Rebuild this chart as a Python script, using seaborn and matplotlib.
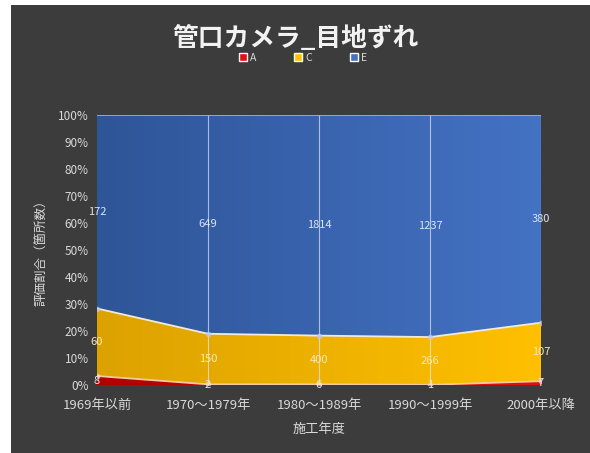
import numpy as np
import pandas as pd
import matplotlib
matplotlib.use("Agg")
import matplotlib.pyplot as plt
import seaborn as sns
from matplotlib.patches import Rectangle
from matplotlib.colors import LinearSegmentedColormap

# Inspection results by construction period (number of locations per grade)
periods = ["1969年以前", "1970～1979年", "1980～1989年", "1990～1999年", "2000年以降"]
grade_a = [8, 2, 6, 1, 7]
grade_c = [60, 150, 400, 266, 107]
grade_e = [172, 649, 1814, 1237, 380]
grades = ["A", "C", "E"]

df = pd.DataFrame({"period": periods, "A": grade_a, "C": grade_c, "E": grade_e})
df["total"] = df[grades].sum(axis=1)
for g in grades:
    df[g + "_pct"] = df[g] / df["total"]

sns.set_theme(style="dark")
plt.rcParams["font.family"] = ["Noto Sans CJK JP", "DejaVu Sans"]

BG = "#3c3c3c"
TXT = "#d9d9d9"

fig = plt.figure(figsize=(5.9, 4.53), dpi=100, facecolor="white")
fig.patches.append(Rectangle((11 / 590, 0), 1 - 11 / 590, 1 - 5 / 453,
                             transform=fig.transFigure, facecolor=BG,
                             edgecolor="none", zorder=-10))

ax = fig.add_axes([97 / 590, 1 - 385 / 453, (541 - 97) / 590, (385 - 115) / 453])
ax.set_facecolor(BG)
ax.set_zorder(1)

x = np.arange(len(periods))
pa = df["A_pct"].to_numpy()
pc = df["C_pct"].to_numpy()
pe = df["E_pct"].to_numpy()
b1 = pa
b2 = pa + pc
b3 = b1 + pc + pe

gradients = {
    "A": ("#b00000", "#e01010"),
    "C": ("#dca200", "#ffc000"),
    "E": ("#2e5597", "#4472c4"),
}
layers = [("A", np.zeros_like(b1), b1), ("C", b1, b2), ("E", b2, b3)]
grad = np.linspace(0, 1, 256).reshape(1, -1)
for name, lo, hi in layers:
    poly = ax.fill_between(x, lo, hi, facecolor="none", edgecolor="none")
    cmap = LinearSegmentedColormap.from_list(name, gradients[name])
    im = ax.imshow(grad, cmap=cmap, aspect="auto", extent=(0, 4, 0, 1),
                   origin="lower", zorder=1)
    path = poly.get_paths()[0]
    im.set_clip_path(path, transform=ax.transData)

# thin light borders between the stacked layers
line_df = pd.DataFrame({"x": np.concatenate([x, x]),
                        "y": np.concatenate([b1, b2]),
                        "edge": ["A"] * 5 + ["C"] * 5})
sns.lineplot(data=line_df, x="x", y="y", hue="edge",
             palette={"A": "#f4c9a8", "C": "#f2ead8"}, linewidth=1.3,
             legend=False, ax=ax, zorder=3)

# vertical category gridlines
for xi in x[1:]:
    ax.axvline(xi, color="#dfe7f5", linewidth=0.8, alpha=0.7, zorder=4)
ax.axhline(1.0, color="#9db4e0", linewidth=1.2, zorder=4)

ax.scatter(x, b2, s=16, color="#b9c9ec", alpha=0.7, zorder=5, linewidths=0)
ax.scatter(x, b1, s=16, color="#e8e8f0", alpha=0.6, zorder=5, linewidths=0)

# value labels centred in each band
lab_kw = dict(ha="center", va="center", fontsize=8, zorder=6)
for i in x:
    ax.text(i, (b2[i] + b3[i]) / 2, str(grade_e[i]), color="#dbe5f7", **lab_kw)
    ax.text(i, (b1[i] + b2[i]) / 2, str(grade_c[i]), color="#fbe9b8", **lab_kw)
    ax.text(i, b1[i] / 2, str(grade_a[i]), color="#f7e0e0", **lab_kw)

ax.set_xlim(0, 4)
ax.set_ylim(0, 1)
ax.set_xticks(x)
ax.set_xticklabels(periods, color=TXT, fontsize=9.5)
ax.set_yticks(np.linspace(0, 1, 11))
ax.set_yticklabels([f"{v}%" for v in range(0, 101, 10)], color=TXT, fontsize=8.5)
ax.tick_params(axis="x", length=0, pad=10)
ax.tick_params(axis="y", length=0, pad=6)
ax.set_xlabel("施工年度", color=TXT, fontsize=9.5, labelpad=8)
ax.set_ylabel("評価割合（箇所数）", color=TXT, fontsize=9, labelpad=7)
ax.grid(False)
for s in ax.spines.values():
    s.set_visible(False)

fig.text(296 / 590, 1 - 39 / 453, "管口カメラ_目地ずれ", ha="center", va="center",
         color="#f2f2f2", fontsize=18.5, fontweight="bold")

handles = [Rectangle((0, 0), 1, 1, facecolor=gradients[g][1]) for g in grades]
fig.legend(handles, grades, loc="center", bbox_to_anchor=(303 / 590, 1 - 58 / 453),
           ncol=3, frameon=False, fontsize=7.5, labelcolor=TXT, handlelength=0.8,
           handleheight=0.8, handletextpad=0.3, columnspacing=3.6)

fig.savefig("out.png", dpi=100, facecolor=fig.get_facecolor())
